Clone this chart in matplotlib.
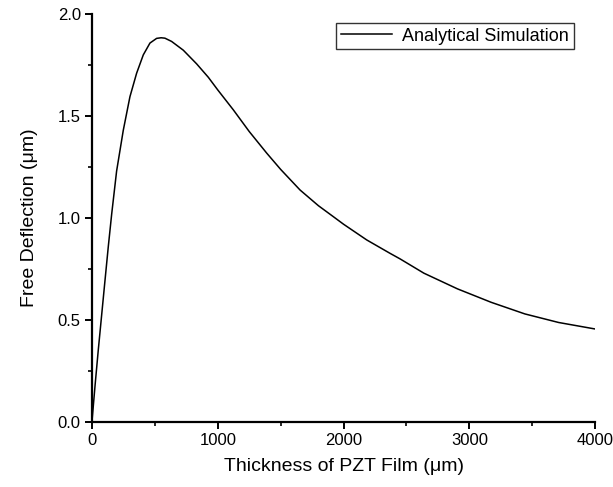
import matplotlib
matplotlib.use('Agg')
import matplotlib.pyplot as plt
from matplotlib.ticker import MultipleLocator, FormatStrFormatter

plt.rcParams['font.family'] = ['Liberation Sans', 'DejaVu Sans']

# values
thickness = [0, 25, 50, 100, 130, 157, 196, 249, 302, 355, 408, 461, 514, 550,
             580, 633, 726, 832, 925, 1000, 1124, 1250, 1389, 1500, 1654, 1800,
             1919, 2000, 2184, 2370, 2449, 2638, 2905, 3173, 3441, 3709, 4000]
deflection = [0, 0.18, 0.35, 0.67, 0.86, 1.02, 1.23, 1.43, 1.595, 1.71, 1.80, 1.858,
              1.881, 1.884, 1.882, 1.866, 1.823, 1.756, 1.690, 1.628, 1.530, 1.424,
              1.318, 1.238, 1.137, 1.060, 1.006, 0.969, 0.892, 0.826, 0.799, 0.729,
              0.652, 0.586, 0.529, 0.487, 0.455]

xticks = [0, 1000, 2000, 3000, 4000]
yticks = [0.0, 0.5, 1.0, 1.5, 2.0]

fig = plt.figure(figsize=(6.13, 4.87), dpi=100)
ax = fig.add_axes([0.150, 0.134, 0.821, 0.837])

ax.plot(thickness, deflection, color='black', linewidth=1.1, label='Analytical Simulation')

ax.set_xlim(0, 4000)
ax.set_ylim(0, 2.0)
ax.set_xticks(xticks)
ax.set_yticks(yticks)
ax.xaxis.set_minor_locator(MultipleLocator(500))
ax.yaxis.set_minor_locator(MultipleLocator(0.25))
ax.yaxis.set_major_formatter(FormatStrFormatter('%.1f'))

for side in ['top', 'right']:
    ax.spines[side].set_visible(False)
for side in ['left', 'bottom']:
    ax.spines[side].set_linewidth(1.6)

ax.tick_params(which='major', direction='out', length=5, width=1.4, labelsize=12, pad=3)
ax.tick_params(which='minor', direction='out', length=3, width=1.2)

ax.set_xlabel('Thickness of PZT Film (μm)', fontsize=14, labelpad=7)
ax.set_ylabel('Free Deflection (μm)', fontsize=14, labelpad=14)

leg = ax.legend(loc='upper right', bbox_to_anchor=(0.975, 1.0), fontsize=13,
                frameon=True, fancybox=False, handlelength=2.8, borderpad=0.25,
                handletextpad=0.6)
leg.get_frame().set_edgecolor('black')
leg.get_frame().set_linewidth(1.0)

fig.savefig('out.png', dpi=100)
